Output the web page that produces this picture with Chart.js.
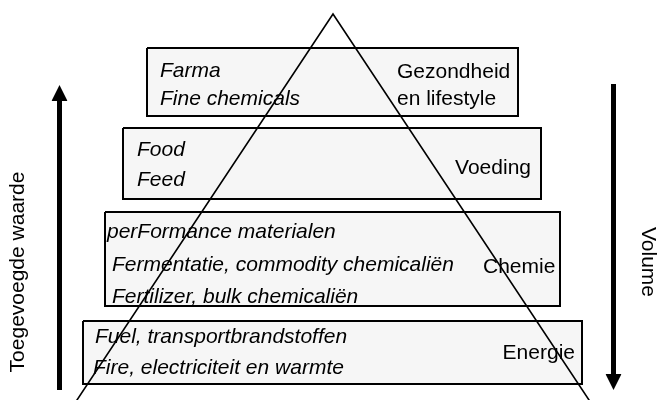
<!DOCTYPE html>
<html>
<head>
<meta charset="utf-8">
<script src="https://cdn.jsdelivr.net/npm/chart.js@4"></script>
<style>
  html, body { margin: 0; padding: 0; background: #ffffff; }
  #wrap { width: 659px; height: 400px; }
</style>
</head>
<body>
<div id="wrap"><canvas id="c" width="659" height="400"></canvas></div>
<script>
// ---- Diagram data (diagram units: x 0..659, y 0..400 top-down) ----
const tierLabels = [['Gezondheid', 'en lifestyle'], ['Voeding'], ['Chemie'], ['Energie']];
const tierItems = [
  ['Farma', 'Fine chemicals'],
  ['Food', 'Feed'],
  ['perFormance materialen', 'Fermentatie, commodity chemicaliën', 'Fertilizer, bulk chemicaliën'],
  ['Fuel, transportbrandstoffen', 'Fire, electriciteit en warmte']
];
const tierLeft   = [147, 123, 105, 83];
const tierRight  = [518, 541, 560, 582];
const tierTop    = [48, 128, 212, 321];
const tierBottom = [116, 199, 306, 384];
const itemX      = [[160, 160], [137, 137], [107, 112, 112], [95, 93]];
const itemY      = [[71, 99], [150, 180], [232, 265, 297], [337, 368]];
const labelX     = [397, 531, 483, 575];
const labelAlign = ['left', 'right', 'left', 'right'];
const labelY     = [[72, 99], [168], [267], [353]];
const pyramidX   = [75, 333, 591];
const pyramidY   = [403, 14, 403];
const axisTitles = ['Toegevoegde waarde', 'Volume'];
const arrowX     = [59.5, 613.5];
const arrowTail  = [390, 84];
const arrowHeadBase = [101, 374];
const arrowTip   = [85, 390];

const datasets = [];
// tier box fills
tierLeft.forEach((l, i) => {
  datasets.push({
    data: [{x: l, y: tierTop[i]}, {x: tierRight[i], y: tierTop[i]}],
    showLine: true, pointRadius: 0, borderWidth: 0, borderColor: 'rgba(0,0,0,0)',
    backgroundColor: '#f6f6f6', fill: {value: tierBottom[i]}, order: 4
  });
  datasets.push({
    data: [{x: l, y: tierTop[i]}, {x: tierRight[i], y: tierTop[i]}, {x: tierRight[i], y: tierBottom[i]},
           {x: l, y: tierBottom[i]}, {x: l, y: tierTop[i]}],
    showLine: true, pointRadius: 0, borderWidth: 2, borderColor: '#000', fill: false,
    borderJoinStyle: 'miter', order: 3
  });
});
// pyramid outline
datasets.push({
  data: pyramidX.map((x, i) => ({x, y: pyramidY[i]})),
  showLine: true, pointRadius: 0, borderWidth: 1.6, borderColor: '#000', fill: false,
  borderJoinStyle: 'miter', order: 2
});
// arrows
arrowX.forEach((x, i) => {
  datasets.push({
    data: [{x, y: arrowTail[i]}, {x, y: arrowHeadBase[i]}],
    showLine: true, pointRadius: 0, borderWidth: 5, borderColor: '#000', fill: false,
    borderCapStyle: 'butt', order: 1
  });
  datasets.push({
    data: [{x: x - 8, y: arrowHeadBase[i]}, {x, y: arrowTip[i]}, {x: x + 8, y: arrowHeadBase[i]}],
    showLine: true, pointRadius: 0, borderWidth: 0, borderColor: 'rgba(0,0,0,0)',
    backgroundColor: '#000', fill: {value: arrowHeadBase[i]}, tension: 0, order: 0
  });
});

const textPlugin = {
  id: 'texts',
  afterDatasetsDraw(chart) {
    const ctx = chart.ctx, xs = chart.scales.x, ys = chart.scales.y;
    ctx.save();
    ctx.fillStyle = '#000';
    ctx.textBaseline = 'middle';
    ctx.font = "italic 21px 'Liberation Sans', Arial, sans-serif";
    ctx.textAlign = 'left';
    tierItems.forEach((items, i) => {
      items.forEach((t, j) => {
        ctx.fillText(t, xs.getPixelForValue(itemX[i][j]), ys.getPixelForValue(itemY[i][j]));
      });
    });
    ctx.font = "21px 'Liberation Sans', Arial, sans-serif";
    tierLabels.forEach((lines, i) => {
      ctx.textAlign = labelAlign[i];
      lines.forEach((t, j) => {
        ctx.fillText(t, xs.getPixelForValue(labelX[i]), ys.getPixelForValue(labelY[i][j]));
      });
    });
    // vertical titles
    ctx.textAlign = 'center';
    ctx.save();
    ctx.translate(xs.getPixelForValue(18), ys.getPixelForValue(272));
    ctx.rotate(-Math.PI / 2);
    ctx.fillText(axisTitles[0], 0, 0);
    ctx.restore();
    ctx.save();
    ctx.translate(xs.getPixelForValue(648), ys.getPixelForValue(262));
    ctx.rotate(Math.PI / 2);
    ctx.fillText(axisTitles[1], 0, 0);
    ctx.restore();
    ctx.restore();
  }
};

new Chart(document.getElementById('c'), {
  type: 'scatter',
  data: { datasets },
  options: {
    responsive: false,
    animation: false,
    events: [],
    layout: { padding: 0 },
    plugins: { legend: { display: false }, tooltip: { enabled: false } },
    elements: { line: { tension: 0 } },
    scales: {
      x: { type: 'linear', min: 0, max: 659, display: false },
      y: { type: 'linear', min: 0, max: 400, reverse: true, display: false }
    }
  },
  plugins: [textPlugin]
});
</script>
</body>
</html>
